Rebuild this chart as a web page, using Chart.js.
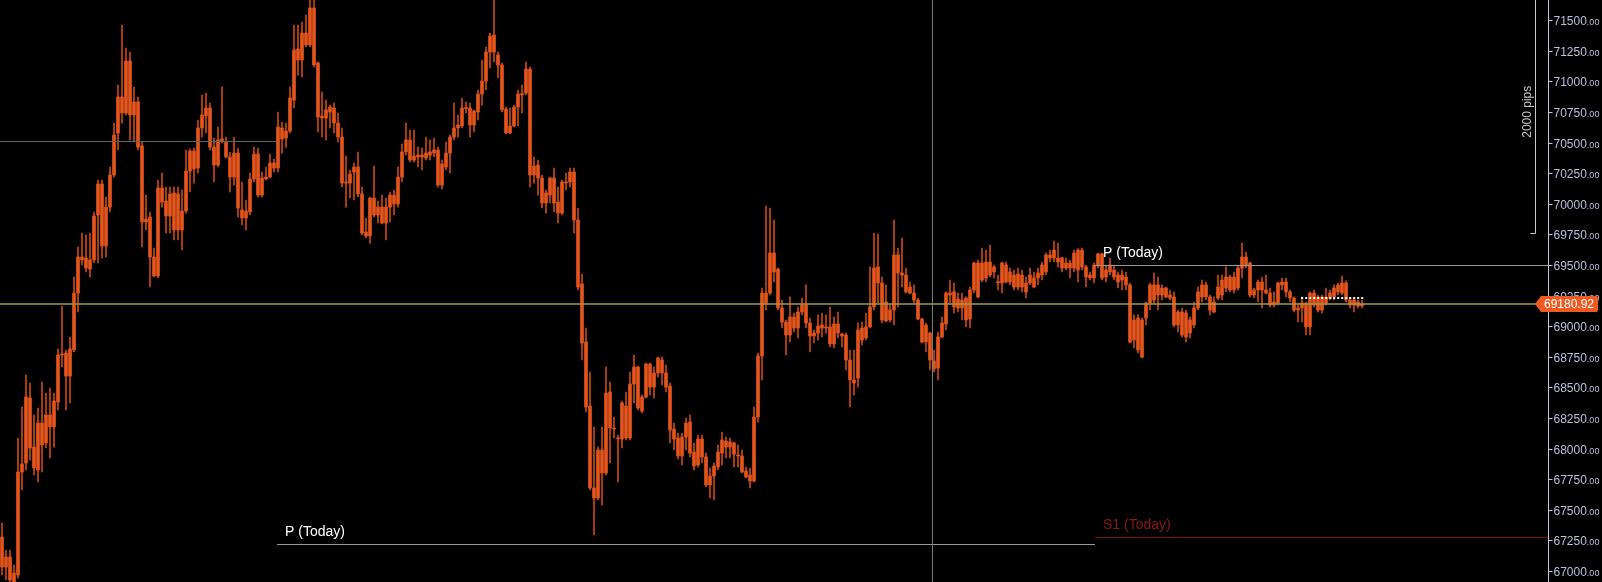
<!DOCTYPE html>
<html>
<head>
<meta charset="utf-8">
<script src="https://cdn.jsdelivr.net/npm/chart.js@4.4.1/dist/chart.umd.min.js"></script>
<style>
  html, body { margin: 0; padding: 0; background: #000; overflow: hidden; }
</style>
</head>
<body>
<canvas id="grafico" width="1602" height="582"></canvas>
<script>
// candles, one every bar from left to right
const opens = [
  67278,67115,67115,66911,66968,67809,67883,68414,68013,67826,
  68209,68046,68275,68177,68381,68765,68781,68593,68806,69271,
  69565,69557,69467,69541,69908,70161,69655,69973,70235,70578,
  70872,70741,71166,70725,70831,70472,69851,69892,69565,69410,
  70129,70022,69900,70088,69786,69941,69941,70267,70431,70292,
  70619,70717,70782,70463,70316,70529,70504,70382,70218,70414,
  69949,69884,69933,70202,70406,70071,70202,70218,70333,70292,
  70619,70537,70594,70847,71264,71174,71394,71297,71599,71149,
  70700,70700,70749,70782,70659,70545,70169,70169,70259,70300,
  70080,69769,69737,70047,69908,69973,69843,69973,70071,69998,
  70218,70423,70521,70357,70382,70398,70374,70398,70414,70439,
  70153,70300,70414,70545,70619,70635,70782,70782,70643,70749,
  70896,71002,71239,71378,71215,71133,70774,70578,70635,70790,
  70896,70904,71100,70235,70316,70210,70006,70071,70210,70014,
  69924,70178,70178,70259,69867,69345,68871,68348,67679,67597,
  67989,67801,68463,68169,68087,68079,68348,68087,68528,68667,
  68307,68422,68691,68503,68618,68724,68618,68512,68160,68087,
  67940,68095,68218,67973,67867,68079,67932,67703,67777,67850,
  67964,68062,68013,68046,67948,67940,67817,67785,67736,68258,
  68757,69271,69271,69598,69467,69149,69034,68928,69075,68985,
  69116,69173,69026,68920,68944,68985,68994,68994,68855,69018,
  68936,68928,68724,68561,68577,68887,68994,68994,69157,69484,
  69353,69043,69132,69132,69582,69435,69418,69271,69271,69214,
  69059,68871,68944,68716,68658,68912,69018,69271,69280,69149,
  69214,69230,69059,69296,69516,69377,69524,69418,69484,69361,
  69353,69500,69361,69418,69320,69418,69353,69353,69394,69394,
  69418,69443,69582,69557,69557,69557,69475,69516,69475,69622,
  69484,69484,69418,69394,69500,69590,69402,69443,69459,69418,
  69377,69402,69337,68887,69067,68748,69067,69189,69337,69255,
  69312,69312,69230,69239,69010,69116,68912,69051,69010,69149,
  69239,69337,69239,69116,69230,69255,69402,69296,69402,69312,
  69475,69565,69516,69255,69296,69361,69296,69271,69173,69189,
  69361,69361,69280,69230,69132,69149,69189,68994,69271,69132,
  69239,69189,69230,69239,69280,69271,69353,69214,69173,69198,69165
];
const highs = [
  67393,67172,67172,67050,68087,68340,68601,68536,68275,68332,
  68544,68454,68495,68454,68814,69165,68806,68912,69402,69647,
  69761,69745,69761,69933,70194,70194,70055,70300,70659,70970,
  71460,71272,71239,70953,70872,70504,70071,69933,69639,70194,
  70251,70137,70137,70137,70137,70112,70439,70447,70455,70684,
  70888,70904,70823,70537,70627,70953,70545,70423,70545,70455,
  70178,70031,70251,70463,70455,70259,70300,70406,70365,70749,
  70668,70659,70953,71460,71460,71484,71541,71670,71680,71160,
  70913,70847,70806,70823,70741,70619,70390,70276,70333,70423,
  70137,69884,70055,70308,70022,70071,70047,70096,70112,70300,
  70488,70659,70602,70602,70463,70455,70545,70521,70537,70463,
  70357,70504,70561,70823,70725,70864,70831,70823,70766,70929,
  71174,71280,71394,71670,71239,71149,70790,70782,70806,70929,
  70970,71158,71117,70382,70357,70235,70112,70218,70292,70137,
  70194,70251,70292,70292,69965,69426,68985,68626,68177,68013,
  68177,68667,68544,68258,68111,68389,68463,68626,68765,68675,
  68438,68699,68699,68667,68748,68748,68683,68536,68209,68128,
  68128,68250,68275,68046,68111,68111,67964,67842,67883,68030,
  68136,68095,68087,68054,68030,67989,67850,67842,68340,68781,
  69312,69982,69965,69867,69475,69214,69051,69239,69108,69157,
  69230,69337,69067,68969,69092,69108,69092,69157,69075,69116,
  68944,68944,68806,68806,69026,69034,69108,69484,69761,69753,
  69402,69337,69173,69867,69639,69720,69475,69361,69337,69230,
  69067,69026,68953,68806,68953,69075,69280,69377,69353,69271,
  69271,69240,69320,69524,69541,69639,69622,69663,69500,69418,
  69524,69524,69475,69459,69475,69459,69402,69475,69443,69475,
  69524,69598,69622,69696,69679,69565,69557,69541,69622,69631,
  69639,69500,69443,69516,69598,69598,69500,69557,69500,69443,
  69459,69443,69353,69092,69092,69067,69198,69353,69435,69402,
  69337,69320,69296,69280,69132,69149,69132,69075,69198,69320,
  69377,69361,69255,69239,69418,69418,69484,69418,69443,69500,
  69679,69606,69524,69312,69377,69402,69418,69312,69280,69361,
  69394,69394,69296,69239,69189,69239,69198,69280,69296,69255,
  69255,69312,69296,69337,69353,69410,69370,69230,69230,69214,69214
];
const lows = [
  66968,66927,66911,66900,66943,67662,67826,67907,67785,67728,
  67809,68005,67924,68013,68316,68667,68316,68373,68789,69116,
  69500,69443,69402,69516,69516,69557,69565,69933,70218,70439,
  70659,70725,70521,70504,70439,69647,69786,69320,69402,69394,
  69973,69761,69761,69704,69704,69622,69924,70096,70169,70251,
  70545,70578,70439,70178,70300,70496,70374,70096,70153,69892,
  69827,69786,69908,70178,70055,70055,70194,70210,70259,70259,
  70414,70463,70578,70782,71051,71035,71280,71280,71117,70586,
  70545,70521,70619,70578,70504,70137,69973,70047,70031,70055,
  69745,69720,69679,69892,69843,69835,69704,69851,69908,69973,
  70178,70398,70341,70341,70300,70276,70357,70357,70382,70137,
  70120,70276,70251,70521,70545,70619,70741,70545,70586,70684,
  70806,70929,71109,71158,71027,70749,70570,70570,70627,70635,
  70741,70888,70137,70169,70071,69965,69924,70006,69933,69843,
  69908,70112,70137,69761,69296,68724,68299,67662,67295,67581,
  67540,67785,67883,68087,67728,68005,68071,68071,68373,68316,
  68291,68414,68438,68414,68585,68520,68463,68046,67989,67915,
  67867,67989,67932,67826,67850,67883,67687,67597,67581,67826,
  67867,67924,67924,67850,67850,67801,67760,67679,67728,68218,
  68561,69132,69255,69361,69132,68985,68765,68871,68953,68904,
  69092,68985,68789,68863,68887,68912,68944,68830,68822,68904,
  68830,68642,68340,68438,68503,68847,68887,68985,69132,69189,
  69026,69034,69034,69010,69157,69320,69271,69263,69189,69051,
  68863,68789,68642,68626,68561,68904,68969,69189,69108,69116,
  69051,68994,68985,69271,69230,69361,69361,69402,69394,69296,
  69271,69353,69337,69296,69296,69280,69230,69337,69312,69337,
  69377,69418,69524,69524,69484,69443,69459,69394,69443,69361,
  69459,69320,69377,69353,69475,69377,69361,69418,69377,69312,
  69296,69296,68863,68822,68781,68740,69010,69132,69189,69132,
  69214,69230,69214,68994,68953,68912,68871,68904,68985,69132,
  69198,69214,69092,69108,69214,69214,69280,69280,69271,69296,
  69394,69475,69239,69230,69198,69149,69263,69157,69157,69173,
  69296,69239,69198,69116,69034,69034,68928,68928,69157,69116,
  69108,69173,69214,69214,69255,69255,69198,69149,69116,69149,69149
];
const closes = [
  67033,67033,66927,66984,67809,67875,68422,68005,67842,68209,
  68030,68275,68177,68389,68765,68773,68593,68814,69271,69565,
  69541,69475,69541,69900,70161,69655,69973,70235,70561,70872,
  70741,71166,70725,70831,70463,69851,69875,69565,69410,70129,
  70014,69900,70080,69786,70080,69786,70267,70431,70284,70619,
  70725,70782,70463,70316,70521,70512,70382,70218,70414,69965,
  69884,69941,70202,70406,70071,70210,70218,70333,70292,70627,
  70529,70594,70864,71256,71174,71394,71297,71599,71133,70708,
  70717,70766,70790,70659,70545,70169,70178,70243,70300,70080,
  69761,69737,70047,69908,69973,69843,69973,70071,69998,70218,
  70423,70521,70357,70390,70398,70382,70414,70423,70439,70153,
  70325,70414,70545,70619,70643,70782,70778,70643,70758,70896,
  71002,71239,71370,71239,71133,70766,70578,70635,70790,70896,
  70890,71100,70235,70308,70210,70006,70088,70210,70006,69924,
  70178,70170,70259,69867,69320,68863,68340,67679,67597,67989,
  67801,68454,68169,68160,68080,68373,68087,68528,68667,68332,
  68422,68691,68503,68618,68740,68618,68503,68152,68079,67940,
  68095,68209,67964,67858,68079,67932,67703,67777,67858,67973,
  68071,68013,68054,67956,67940,67809,67768,67736,68258,68757,
  69271,69189,69598,69443,69149,69034,68928,69075,68985,69116,
  69173,69026,68920,68944,69002,69010,68985,68855,69018,68944,
  68920,68724,68561,68536,68969,68985,68904,69157,69475,69353,
  69051,69198,69051,69582,69435,69418,69280,69320,69214,69059,
  68871,69010,68724,68651,68912,69026,69271,69255,69157,69222,
  69149,69051,69296,69516,69239,69516,69394,69524,69443,69355,
  69516,69361,69443,69320,69426,69320,69280,69418,69320,69435,
  69500,69582,69557,69622,69524,69475,69516,69475,69598,69459,
  69622,69402,69394,69500,69590,69394,69459,69500,69402,69361,
  69418,69337,68871,69051,68806,69051,69189,69337,69214,69337,
  69255,69239,69255,69010,69116,68928,69108,68944,69149,69280,
  69337,69239,69132,69198,69320,69377,69312,69402,69296,69475,
  69565,69500,69255,69296,69361,69296,69271,69173,69198,69353,
  69337,69280,69230,69132,69149,69189,68994,69271,69173,69239,
  69132,69239,69271,69312,69337,69353,69214,69173,69214,69165,69181
];

// price axis ticks
const tickValues = [71500, 71250, 71000, 70750, 70500, 70250, 70000, 69750, 69500,
  69250, 69000, 68750, 68500, 68250, 68000, 67750, 67500, 67250, 67000];
const lastPrice = 69180.92;
const lastPriceText = '69180.92';

// horizontal levels
const levelNames = ['', 'P (Today)', 'P (Today)', 'S1 (Today)'];
const levelValues = [70510, 67221, 69500, 67281];
const dotLevel = 69230;
const pipsBracketLow = 69760;

document.addEventListener('DOMContentLoaded', () => {
    const contexto = document.getElementById('grafico').getContext('2d');
    const fonte = '"Liberation Sans", Arial, sans-serif';

    // where each level is drawn (bar index units) and its look
    const levelLayout = [
        { from: -0.5, to: 68.5, color: '#55656c' },
        { from: 68.75, to: 273.25, color: '#9a9a9a', text: '#ffffff' },
        { from: 273.25, to: 386.5, color: '#9a9a9a', text: '#ffffff' },
        { from: 273.25, to: 386.5, color: '#7c1414', text: '#8a1a1a' }
    ];
    const crosshairIndex = 232.4;

    const wicks = opens.map((o, i) => ({ x: i, y: [lows[i], highs[i]] }));
    const bodies = opens.map((o, i) => ({ x: i, y: [o, closes[i]] }));

    const desenho = {
        id: 'desenho',
        afterDatasetsDraw(chart) {
            const { ctx, chartArea, scales: { x, y } } = chart;
            ctx.save();
            ctx.lineWidth = 1;

            levelValues.forEach((v, k) => {
                const lay = levelLayout[k];
                const py = Math.round(y.getPixelForValue(v)) + 0.5;
                const x0 = Math.max(0, x.getPixelForValue(lay.from));
                const x1 = Math.min(chartArea.right, x.getPixelForValue(lay.to));
                ctx.strokeStyle = lay.color;
                ctx.beginPath();
                ctx.moveTo(x0, py);
                ctx.lineTo(x1, py);
                ctx.stroke();
                if (levelNames[k]) {
                    ctx.fillStyle = lay.text;
                    ctx.font = '14px ' + fonte;
                    ctx.textAlign = 'left';
                    ctx.textBaseline = 'alphabetic';
                    ctx.fillText(levelNames[k], x0 + 8, py - 9);
                }
            });

            // crosshair
            const cx = Math.round(x.getPixelForValue(crosshairIndex)) + 0.5;
            ctx.strokeStyle = '#7a7a7a';
            ctx.beginPath();
            ctx.moveTo(cx, chartArea.top);
            ctx.lineTo(cx, chartArea.bottom);
            ctx.stroke();

            // last price line
            const ly = y.getPixelForValue(lastPrice);
            ctx.strokeStyle = '#9c9a4c';
            ctx.lineWidth = 1.6;
            ctx.beginPath();
            ctx.moveTo(0, ly);
            ctx.lineTo(chartArea.right - 12, ly);
            ctx.stroke();
            ctx.restore();
        },
        afterDraw(chart) {
            const { ctx, chartArea, scales: { y } } = chart;
            const ax = chartArea.right + 0.5;
            ctx.save();

            // axis line
            ctx.strokeStyle = '#c4c4e4';
            ctx.lineWidth = 1;
            ctx.beginPath();
            ctx.moveTo(ax, 0);
            ctx.lineTo(ax, chart.height);
            ctx.stroke();

            ctx.textAlign = 'left';
            ctx.textBaseline = 'alphabetic';
            tickValues.forEach(v => {
                const py = Math.round(y.getPixelForValue(v)) + 0.5;
                ctx.strokeStyle = '#c4c4e4';
                ctx.beginPath();
                ctx.moveTo(ax, py);
                ctx.lineTo(ax + 4, py);
                ctx.stroke();
                ctx.fillStyle = '#bdbde0';
                ctx.font = '12px ' + fonte;
                const principal = String(v);
                ctx.fillText(principal, ax + 5, py + 4.5);
                const w = ctx.measureText(principal).width;
                ctx.font = '9px ' + fonte;
                ctx.fillText('.00', ax + 5 + w, py + 4.5);
            });

            // pips bracket
            const bx = chartArea.right - 12.5;
            const by = Math.round(y.getPixelForValue(pipsBracketLow)) + 0.5;
            ctx.strokeStyle = '#c8c8c8';
            ctx.beginPath();
            ctx.moveTo(bx, 0);
            ctx.lineTo(bx, by);
            ctx.lineTo(bx - 5, by);
            ctx.stroke();
            ctx.save();
            ctx.translate(bx - 8, by / 2 - 5);
            ctx.rotate(-Math.PI / 2);
            ctx.fillStyle = '#c8c8c8';
            ctx.font = '12px ' + fonte;
            ctx.textAlign = 'center';
            ctx.textBaseline = 'middle';
            ctx.fillText('2000 pips', 0, 0);
            ctx.restore();

            // last price tag
            const ly = y.getPixelForValue(lastPrice);
            const tx = chartArea.right - 13;
            ctx.fillStyle = '#ee5a22';
            ctx.beginPath();
            ctx.moveTo(tx, ly);
            ctx.lineTo(tx + 6, ly - 8);
            ctx.lineTo(tx + 61, ly - 8);
            ctx.quadraticCurveTo(tx + 63, ly - 8, tx + 63, ly - 6);
            ctx.lineTo(tx + 63, ly + 6);
            ctx.quadraticCurveTo(tx + 63, ly + 8, tx + 61, ly + 8);
            ctx.lineTo(tx + 6, ly + 8);
            ctx.closePath();
            ctx.fill();
            ctx.fillStyle = '#ffffff';
            ctx.font = '12px ' + fonte;
            ctx.textAlign = 'center';
            ctx.textBaseline = 'middle';
            ctx.fillText(lastPriceText, tx + 34, ly + 0.5);
            ctx.restore();
        }
    };

    new Chart(contexto, {
        type: 'bar',
        data: {
            datasets: [
                {
                    label: 'wick',
                    data: wicks,
                    backgroundColor: '#c9471a',
                    barThickness: 1,
                    grouped: false,
                    order: 2
                },
                {
                    label: 'body',
                    data: bodies,
                    backgroundColor: '#e4551e',
                    barThickness: 3,
                    minBarLength: 1,
                    grouped: false,
                    order: 1
                },
                {
                    type: 'line',
                    label: 'marker',
                    data: [{ x: 324.8, y: dotLevel }, { x: 340.4, y: dotLevel }],
                    borderColor: '#ffffff',
                    borderWidth: 2,
                    borderDash: [2, 2],
                    pointRadius: 0,
                    order: 0
                }
            ]
        },
        options: {
            responsive: false,
            animation: false,
            devicePixelRatio: 1,
            layout: { padding: { left: 0, right: 54, top: 0, bottom: 0 } },
            scales: {
                x: { type: 'linear', min: -0.5, max: 386.5, offset: false, display: false },
                y: { type: 'linear', min: 66911, max: 71664, beginAtZero: false, display: false }
            },
            plugins: {
                legend: { display: false },
                tooltip: { enabled: false }
            }
        },
        plugins: [desenho]
    });
});
</script>
</body>
</html>
